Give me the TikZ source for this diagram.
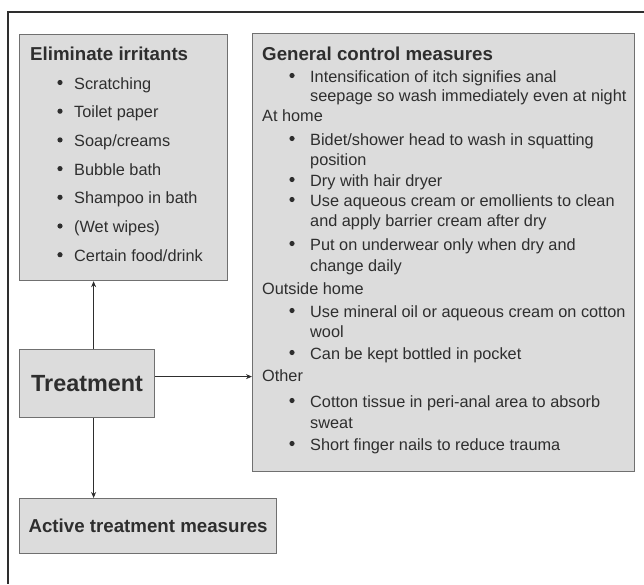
\documentclass[tikz,border=0pt]{standalone}
\usepackage{fontspec}
\setmainfont{Liberation Sans}
\usetikzlibrary{arrows.meta}
\usetikzlibrary{calc}
\definecolor{boxfill}{HTML}{DCDCDC}
\definecolor{boxline}{HTML}{707070}
\definecolor{inkgray}{HTML}{2E2E2E}
\tikzset{
    box/.style={draw=boxline, fill=boxfill, line width=1.2pt, inner sep=0pt, anchor=north west, text=inkgray},
    txt/.style={anchor=base west, inner sep=0pt, text=inkgray, font=\fontsize{16.3pt}{19pt}\selectfont},
    ttl/.style={txt, font=\fontsize{18.7pt}{22pt}\selectfont\bfseries},
    dot/.style={circle, fill=inkgray, inner sep=0pt, minimum size=5.2pt},
    arr/.style={draw=inkgray, line width=0.9pt, -{Stealth[length=6pt,width=5pt]}}
}

\begin{document}
\begin{tikzpicture}[x=1pt,y=-1pt]
                \useasboundingbox (0,0) rectangle (644,584);
                \draw[inkgray, line width=1.2pt] (644,12) -- (8,12) -- (8,584);

                \node[box, minimum width=208pt, minimum height=246pt] (elim) at (19,34) {};
                \node[box, minimum width=382pt, minimum height=438pt] (gen) at (252,33) {};
                \node[box, minimum width=135pt, minimum height=68pt, font=\fontsize{23.4pt}{28pt}\selectfont\bfseries] (treat) at (19,349) {Treatment};
                \node[box, minimum width=257pt, minimum height=55pt, font=\fontsize{18.7pt}{22pt}\selectfont\bfseries] (active) at (19,498) {Active treatment measures};

                \draw[arr] ([xshift=6.5pt]treat.north) -- ([xshift=6.5pt]treat.north |- elim.south);
                \draw[arr] ([xshift=6.5pt]treat.south) -- ([xshift=6.5pt]treat.south |- active.north);
                \draw[arr] ([yshift=7pt]treat.east) -- ([yshift=7pt]treat.east -| gen.west);

                \node[ttl] (elimtitle) at (30,60) {Eliminate irritants};
                \foreach \t [count=\i] in {Scratching, Toilet paper, {Soap/creams}, Bubble bath, Shampoo in bath, {(Wet wipes)}, {Certain food/drink}} {
                    \node[dot] (elimdot\i) at (60,53.8+28.7*\i) {};
                    \node[txt] (elimitem\i) at (74,60.3+28.7*\i) {\t};
                }

                \node[ttl] (gentitle) at (262,60) {General control measures};
                \foreach \y/\t [count=\i] in {121/{At home}, 294/{Outside home}, 381/{Other}}
                    \node[txt] (genhead\i) at (262,\y) {\t};
                \foreach \y/\t [count=\i] in {
                        82/{Intensification of itch signifies anal},
                        101/{seepage so wash immediately even at night},
                        145/{Bidet/shower head to wash in squatting},
                        165/{position},
                        186/{Dry with hair dryer},
                        206/{Use aqueous cream or emollients to clean},
                        226/{and apply barrier cream after dry},
                        250/{Put on underwear only when dry and},
                        271/{change daily},
                        317/{Use mineral oil or aqueous cream on cotton},
                        337/{wool},
                        359/{Can be kept bottled in pocket},
                        407/{Cotton tissue in peri-anal area to absorb},
                        428/{sweat},
                        450/{Short finger nails to reduce trauma}}
                    \node[txt] (genline\i) at (310,\y) {\t};
                \foreach \y [count=\i] in {82,145,186,206,250,317,359,407,450}
                    \node[dot] (gendot\i) at (292,\y-6.5) {};
            \end{tikzpicture}
\end{document}
